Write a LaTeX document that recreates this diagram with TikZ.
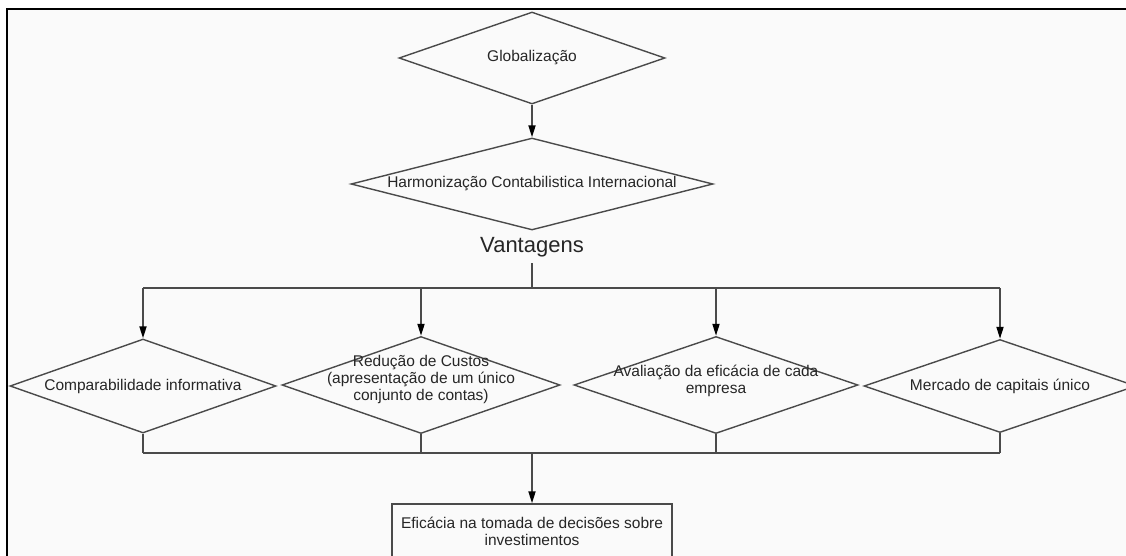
\documentclass[tikz,border=0pt]{standalone}
\usepackage{fontspec}
\setmainfont{Liberation Sans}
\usetikzlibrary{shapes.geometric,arrows.meta}
\definecolor{linec}{HTML}{4A4A4A}
\definecolor{paper}{HTML}{FAFAFA}
\definecolor{ink}{HTML}{262626}
\begin{document}
\begin{tikzpicture}[x=1pt,y=-1pt,
  dia/.style={diamond,draw=linec,line width=1.4pt,inner sep=0pt},
  lbl/.style={font=\fontsize{15.5}{17}\selectfont,text=ink,align=center,inner sep=0pt},
  conn/.style={draw=linec,line width=1.8pt},
  arr/.style={conn,-{Triangle[length=12pt,width=7pt,color=black]}},
]
\useasboundingbox (0,0) rectangle (1126,555);
\clip (0,0) rectangle (1126,555);
% page and frame
\fill[white] (0,0) rectangle (1126,555);
\fill[paper] (7,9) rectangle (1140,570);
\draw[black,line width=2.2pt] (7,570) -- (7,9) -- (1140,9);

% top chain
\node[dia,minimum width=266pt,minimum height=92pt,
      label={[lbl]center:Globalização}] (glob) at (532,58) {};
\node[dia,minimum width=362pt,minimum height=92pt,
      label={[lbl]center:Harmonização Contabilistica Internacional}] (harm) at (532,184) {};
\node[font=\fontsize{22}{26}\selectfont,text=ink,inner sep=0pt,outer sep=6pt] (vant) at (532,247.5) {Vantagens};

% advantages
\node[dia,minimum width=266pt,minimum height=94pt,
      label={[lbl]center:Comparabilidade informativa}] (d1) at (143,386) {};
\node[dia,minimum width=278pt,minimum height=97pt,
      label={[lbl,yshift=6pt]center:{Redução de Custos\\(apresentação de um único\\conjunto de contas)}}] (d2) at (421,385) {};
\node[dia,minimum width=284pt,minimum height=97pt,
      label={[lbl,yshift=4pt]center:{Avaliação da eficácia de cada\\empresa}}] (d3) at (716,385) {};
\node[dia,minimum width=272pt,minimum height=93pt,
      label={[lbl]center:Mercado de capitais único}] (d4) at (1000,386) {};

% result
\node[draw=linec,line width=1.4pt,rectangle,minimum width=280pt,minimum height=54pt,lbl]
      (res) at (532,531) {Eficácia na tomada de decisões sobre\\investimentos};

% connectors
\draw[arr] (glob.south) -- (harm.north);
\coordinate (busT) at (532,288);
\coordinate (busB) at (532,453);
\draw[conn] (vant.south) -- (busT);
\draw[conn] (d1.north |- busT) -- (d4.north |- busT);
\foreach \n in {d1,d2,d3,d4} {
  \draw[arr] (\n.north |- busT) -- (\n.north);
  \draw[conn] (\n.south) -- (\n.south |- busB);
}
\draw[conn] (d1.south |- busB) -- (d4.south |- busB);
\draw[arr] (busB) -- (res.north);
\end{tikzpicture}
\end{document}
